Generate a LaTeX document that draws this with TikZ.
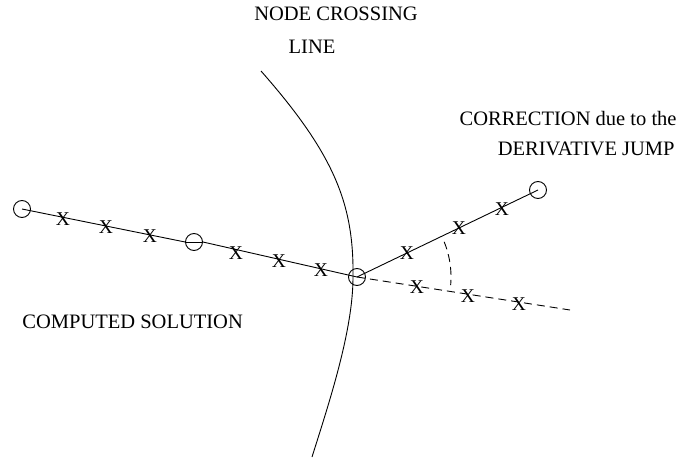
\documentclass[tikz,border=0pt]{standalone}
\usepackage{fontspec}
\setmainfont{Liberation Serif}
\begin{document}
\begin{tikzpicture}[x=1pt,y=-1pt,
  line width=0.9pt,
  every node/.style={font=\fontsize{20.5}{24}\selectfont, inner sep=0pt},
  pt/.style={circle, draw, line width=0.9pt, minimum size=17pt, inner sep=0pt},
  mk/.style={font=\fontsize{19.5}{22}\selectfont, inner sep=0pt},
  lbl/.style={anchor=base},
  dsh/.style={dash pattern=on 8pt off 5pt}]
\useasboundingbox (0,0) rectangle (678,460);
% points
\node[pt] (c1) at (22,209) {};
\node[pt] (c2) at (194,242) {};
\node[pt] (c3) at (357,277) {};
\node[pt] (c4) at (538,190) {};
\coordinate (dend) at (570,310);
% node crossing line
\coordinate (ncA) at (261,71);
\coordinate (ncM) at (353,277);
\coordinate (ncB) at (312,457);
\draw (ncA) .. controls (335,155) and (354,205) .. (ncM)
            .. controls (353,330) and (330,400) .. (ncB);
% lines
\draw (c1.center) -- (c2.west);
\draw (c2.east) -- (c3.center);
\draw (c2.west) -- (c2.east);
\draw (c3.center) -- (c4.center);
\draw[dsh] (c3.center) -- (dend);
% dashed arc
\draw[dsh, shift={(c3.center)}] plot[domain=-22:5, samples=40] (\x:94);
% X marks
\node[mk] (x1) at (63,219) {X};
\node[mk] (x2) at (106,227.5) {X};
\node[mk] (x3) at (150,236.5) {X};
\node[mk] (x4) at (236,253) {X};
\node[mk] (x5) at (279,261.5) {X};
\node[mk] (x6) at (321,270) {X};
\node[mk] (x7) at (407,253) {X};
\node[mk] (x8) at (459,228) {X};
\node[mk] (x9) at (502,209) {X};
\node[mk] (x10) at (417,287) {X};
\node[mk] (x11) at (468,296) {X};
\node[mk] (x12) at (519,304) {X};
% labels
\node[lbl] (t1) at (336,21) {NODE CROSSING};
\node[lbl] (t2) at (312,54) {LINE};
\node[anchor=base east] (t3) at (677,125) {CORRECTION due to the};
\node[anchor=base east] (t4) at (675,155) {DERIVATIVE JUMP};
\node[anchor=base west] (t5) at (22,328) {COMPUTED SOLUTION};
\end{tikzpicture}
\end{document}
